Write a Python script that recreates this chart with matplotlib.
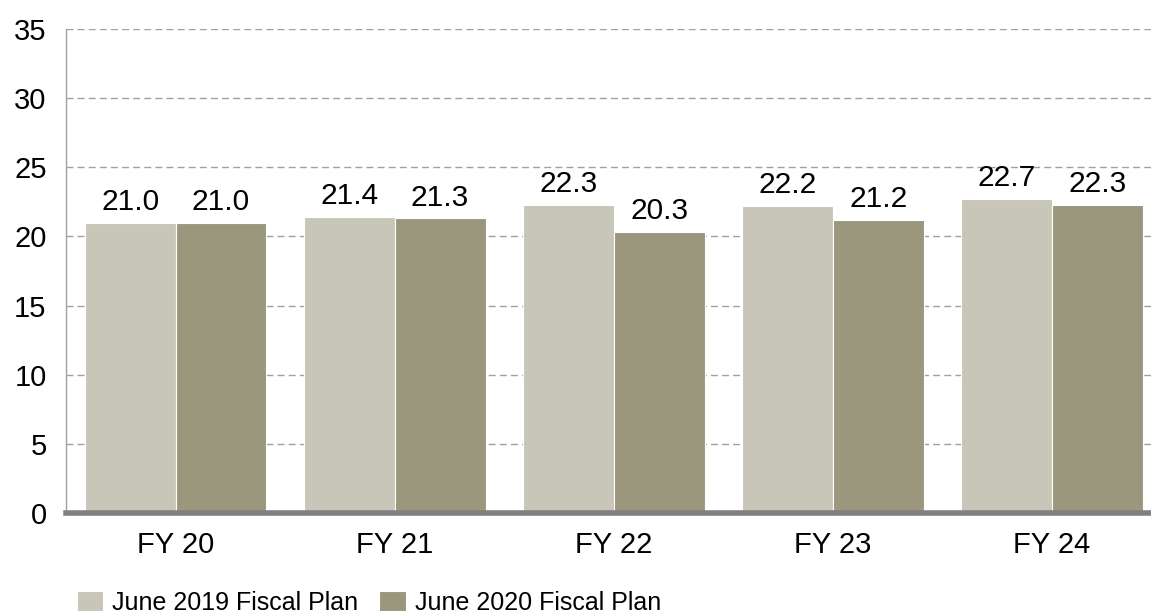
import matplotlib.pyplot as plt
import numpy as np

categories = ["FY 20", "FY 21", "FY 22", "FY 23", "FY 24"]
plan_2019 = [21.0, 21.4, 22.3, 22.2, 22.7]
plan_2020 = [21.0, 21.3, 20.3, 21.2, 22.3]
series_names = ["June 2019 Fiscal Plan", "June 2020 Fiscal Plan"]
y_ticks = [0, 5, 10, 15, 20, 25, 30, 35]

plt.rcParams['font.family'] = ['Liberation Sans', 'DejaVu Sans']

fig = plt.figure(figsize=(11.51, 6.14), dpi=100)
ax = fig.add_axes([66 / 1151, 1 - 513 / 614, (1161.5 - 66) / 1151, (513 - 29) / 614])

x = np.arange(len(categories))
w = 0.415
b1 = ax.bar(x - w / 2, plan_2019, w, color='#c8c6b8', edgecolor='white', linewidth=0.8,
            label=series_names[0], zorder=3)
b2 = ax.bar(x + w / 2, plan_2020, w, color='#9a977c', edgecolor='white', linewidth=0.8,
            label=series_names[1], zorder=3)

for bars in (b1, b2):
    for rect in bars:
        ax.annotate(f"{rect.get_height():.1f}", (rect.get_x() + rect.get_width() / 2, rect.get_height()),
                    xytext=(0, 5), textcoords='offset points', ha='center', va='bottom',
                    fontsize=21.5, color='black')

ax.set_xlim(-0.5, len(categories) - 0.5)
ax.set_ylim(0, 35)
ax.set_yticks(y_ticks)
ax.set_xticks(x)
ax.set_xticklabels(categories)
ax.tick_params(axis='both', labelsize=21, length=0)
ax.tick_params(axis='x', pad=13)
ax.tick_params(axis='y', pad=14)

ax.yaxis.grid(True, linestyle=(0, (5, 3)), color='#a0a0a0', linewidth=1, zorder=0)
ax.set_axisbelow(True)

for s in ('top', 'right'):
    ax.spines[s].set_visible(False)
ax.spines['left'].set_color('#a0a0a0')
ax.spines['left'].set_linewidth(1)
ax.spines['bottom'].set_color('#808080')
ax.spines['bottom'].set_linewidth(4)
ax.spines['bottom'].set_zorder(4)

fig.legend(loc='center left', bbox_to_anchor=(77 / 1151, 1 - 603 / 614), ncol=2, frameon=False,
           fontsize=18, handlelength=1.05, handleheight=0.85, handletextpad=0.36,
           columnspacing=0.84, borderaxespad=0, borderpad=0)

fig.savefig("out.png", dpi=100)
plt.close(fig)
